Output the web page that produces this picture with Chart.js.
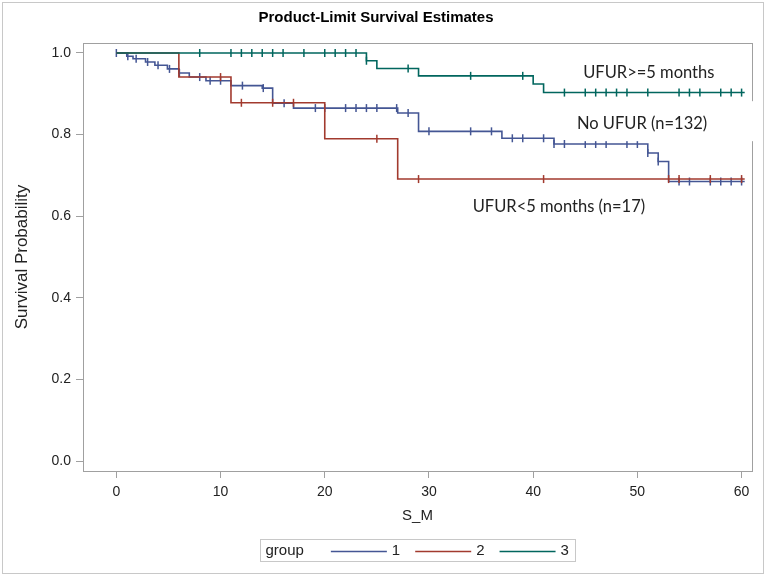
<!DOCTYPE html>
<html>
<head>
<meta charset="utf-8">
<script src="https://cdn.jsdelivr.net/npm/chart.js@4/dist/chart.umd.min.js"></script>
<style>
  body { margin: 0; background: #fff; }
  #wrap { position: relative; width: 767px; height: 577px; }
</style>
</head>
<body>
<div id="wrap"><canvas id="kmChart" width="767" height="577"></canvas></div>
<script>
// tick labels
const xTickVals = [0, 10, 20, 30, 40, 50, 60];
const yTickVals = [0, 0.2, 0.4, 0.6, 0.8, 1.0];

// group 1 (No UFUR) : event times and survival after each step
const g1Times = [0, 1, 1.6, 2.8, 3.7, 4.9, 6, 7, 8.6, 11, 14, 15, 17, 27, 29, 37, 42, 51, 52, 53, 60.3];
const g1Surv = [1.0, 0.992, 0.986, 0.978, 0.970, 0.961, 0.951, 0.941, 0.932, 0.920, 0.914, 0.877, 0.865, 0.853, 0.808, 0.791, 0.777, 0.755, 0.734, 0.685, 0.685];
const g1Censor = [0, 1.1, 1.9, 3, 4, 5.1, 6.05, 8, 9, 10, 12.1, 14.1, 16.1, 19.1, 20, 22, 23, 24, 25, 26.9, 28, 30, 34, 36, 38, 39, 41, 42, 43, 45, 46, 47, 49, 50, 51, 52, 54, 55, 57, 58, 59, 60];

// group 2 (UFUR<5 months)
const g2Times = [0, 6, 11, 20, 27, 60.3];
const g2Surv = [1.0, 0.941, 0.878, 0.790, 0.691, 0.691];
const g2Censor = [10, 12, 15, 17, 25, 29, 41, 53, 54, 57, 60];

// group 3 (UFUR>=5 months)
const g3Times = [0, 24, 25, 29, 40, 41, 60.3];
const g3Surv = [1.0, 0.981, 0.962, 0.944, 0.924, 0.903, 0.903];
const g3Censor = [8, 11, 12, 13, 14, 15, 16, 18, 20, 21, 22, 23, 24, 28, 34, 39, 43, 45, 46, 47, 48, 49, 51, 54, 55, 56, 58, 59, 60];

const groupNames = ["1", "2", "3"];
const groupColors = ["#445694", "#A23A2E", "#01665E"];

// curve labels: text, x, y (data units, left/middle anchored)
const noteTexts = ["UFUR>=5 months", "No UFUR (n=132)", "UFUR<5 months (n=17)"];
const noteX = [44.8, 44.2, 34.2];
const noteY = [0.952, 0.828, 0.623];

const sans = "'Liberation Sans', Arial, sans-serif";

function survAt(times, surv, t) {
  let s = surv[0];
  for (let i = 0; i < times.length; i++) {
    if (times[i] <= t) s = surv[i];
  }
  return s;
}

function curvePoints(times, surv) {
  return times.map((t, i) => ({ x: t, y: surv[i] }));
}

function censorPoints(times, surv, cens) {
  return cens.map(t => ({ x: t, y: survAt(times, surv, t) }));
}

function stepSet(times, surv, color, order) {
  return {
    type: "line",
    data: curvePoints(times, surv),
    borderColor: color,
    borderWidth: 1.6,
    stepped: true,
    pointRadius: 0,
    fill: false,
    order
  };
}

function censorSet(times, surv, cens, color, order) {
  return {
    type: "scatter",
    data: censorPoints(times, surv, cens),
    borderColor: color,
    backgroundColor: color,
    pointStyle: "line",
    rotation: 90,
    pointRadius: 4,
    pointBorderWidth: 1.5,
    showLine: false,
    order
  };
}

const framePlugin = {
  id: "frame",
  beforeDraw(chart) {
    const ctx = chart.ctx;
    ctx.save();
    ctx.fillStyle = "#fff";
    ctx.fillRect(0, 0, chart.width, chart.height);
    ctx.strokeStyle = "#c8c8c8";
    ctx.lineWidth = 1;
    ctx.strokeRect(2.5, 2.5, 761, 571);
    ctx.restore();
  },
  beforeDatasetsDraw(chart) {
    const { ctx, chartArea: a } = chart;
    ctx.save();
    ctx.strokeStyle = "#a0a0a0";
    ctx.lineWidth = 1;
    ctx.strokeRect(Math.round(a.left) + 0.5, Math.round(a.top) + 0.5,
      Math.round(a.right - a.left), Math.round(a.bottom - a.top));
    ctx.restore();
  },
  afterDatasetsDraw(chart) {
    const { ctx, chartArea: a, scales } = chart;
    ctx.save();
    ctx.font = "16.5px Lato, 'Open Sans', sans-serif";
    ctx.textBaseline = "middle";
    noteTexts.forEach((txt, i) => {
      const px = scales.x.getPixelForValue(noteX[i]);
      const py = scales.y.getPixelForValue(noteY[i]);
      if (i === 1) {
        // label box hides a piece of the frame, as in the original
        ctx.fillStyle = "#fff";
        ctx.fillRect(px - 6, py - 22, a.right + 5 - (px - 6), 40);
      }
      ctx.fillStyle = "#222";
      ctx.fillText(txt, px, py);
    });
    ctx.restore();
  },
  afterDraw(chart) {
    // SAS style legend box with "group" caption
    const { ctx, chartArea: a } = chart;
    ctx.save();
    ctx.font = "15px " + sans;
    ctx.textBaseline = "middle";
    const lineLen = 56;
    const cap = "group";
    let w = 5 + ctx.measureText(cap).width + 27;
    groupNames.forEach((g, i) => {
      w += lineLen + 5 + ctx.measureText(g).width + (i < groupNames.length - 1 ? 15 : 7);
    });
    const cx = (a.left + a.right) / 2;
    const left = Math.round(cx - w / 2) + 0.5;
    const top = 539.5;
    const h = 22;
    ctx.strokeStyle = "#c8c8c8";
    ctx.lineWidth = 1;
    ctx.strokeRect(left, top, Math.round(w), h);
    const my = top + h / 2;
    let x = left + 5;
    ctx.fillStyle = "#222";
    ctx.fillText(cap, x, my);
    x += ctx.measureText(cap).width + 27;
    groupNames.forEach((g, i) => {
      ctx.strokeStyle = groupColors[i];
      ctx.lineWidth = 1.5;
      ctx.beginPath();
      ctx.moveTo(x, Math.round(my) + 0.5);
      ctx.lineTo(x + lineLen, Math.round(my) + 0.5);
      ctx.stroke();
      x += lineLen + 5;
      ctx.fillStyle = "#222";
      ctx.fillText(g, x, my);
      x += ctx.measureText(g).width + 15;
    });
    ctx.restore();
  }
};

const kmChart = new Chart(document.getElementById("kmChart"), {
  data: {
    datasets: [
      stepSet(g3Times, g3Surv, groupColors[2], 1),
      censorSet(g3Times, g3Surv, g3Censor, groupColors[2], 1),
      stepSet(g2Times, g2Surv, groupColors[1], 2),
      censorSet(g2Times, g2Surv, g2Censor, groupColors[1], 2),
      stepSet(g1Times, g1Surv, groupColors[0], 3),
      censorSet(g1Times, g1Surv, g1Censor, groupColors[0], 3)
    ]
  },
  options: {
    responsive: false,
    animation: false,
    layout: { padding: { left: 0, right: 15, top: 0, bottom: 49 } },
    plugins: {
      legend: { display: false },
      tooltip: { enabled: false },
      title: {
        display: true,
        text: "Product-Limit Survival Estimates",
        color: "#000",
        font: { family: sans, size: 15, weight: "bold" },
        padding: { top: 9, bottom: 16 }
      }
    },
    scales: {
      x: {
        type: "linear",
        min: -3.2,
        max: 61,
        afterBuildTicks: s => { s.ticks = xTickVals.map(v => ({ value: v })); },
        afterFit: s => { s.height = 57; },
        grid: { drawOnChartArea: false, drawTicks: true, tickLength: 7, color: "#a0a0a0" },
        border: { display: false },
        ticks: { color: "#222", padding: 6, font: { family: sans, size: 14 }, maxRotation: 0 },
        title: { display: true, text: "S_M", color: "#222", font: { family: sans, size: 15 }, padding: { top: 0, bottom: 3 } }
      },
      y: {
        type: "linear",
        min: -0.0245,
        max: 1.0245,
        afterBuildTicks: s => { s.ticks = yTickVals.map(v => ({ value: v })); },
        afterFit: s => { s.width = 83; },
        grid: { drawOnChartArea: false, drawTicks: true, tickLength: 7, color: "#a0a0a0" },
        border: { display: false },
        ticks: { color: "#222", padding: 5, font: { family: sans, size: 14 }, callback: v => v.toFixed(1) },
        title: { display: true, text: "Survival Probability", color: "#222", font: { family: sans, size: 17 }, padding: { top: 12, bottom: 0 } }
      }
    }
  },
  plugins: [framePlugin]
});
</script>
</body>
</html>
